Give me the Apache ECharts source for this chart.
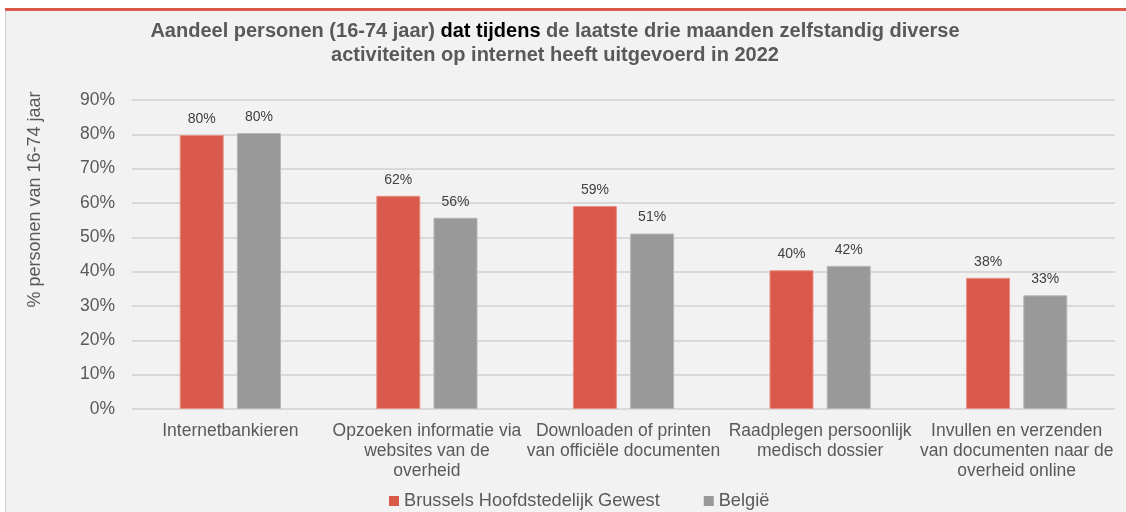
<!DOCTYPE html>
<html lang="nl">
<head>
	<meta charset="UTF-8">
	<title>Internetactiviteiten 2022</title>
	<style type="text/css">
	body,html{
		width: 100%;
		height: 100%;
		margin: 0;
		padding: 0;
		background: #ffffff;
	}
	#container{
		width: 1126px;
		height: 512px;
	}
	</style>
</head>
<body>
	<div id="container"></div>
<script type="text/javascript" src="https://cdn.jsdelivr.net/npm/echarts@6/dist/echarts.min.js"></script>
<script type="text/javascript">
	// categorieën (x-as)
	var categories = [
		'Internetbankieren',
		'Opzoeken informatie via\nwebsites van de\noverheid',
		'Downloaden of printen\nvan officiële documenten',
		'Raadplegen persoonlijk\nmedisch dossier',
		'Invullen en verzenden\nvan documenten naar de\noverheid online'
	];
	var seriesNames = ['Brussels Hoofdstedelijk Gewest', 'België'];
	// waarden in %
	var brussel = [79.8, 62.1, 59.1, 40.4, 38.2];
	var belgie = [80.4, 55.7, 51.1, 41.7, 33.1];
	var yTicks = [0, 90, 10]; // min, max, interval

	var font = '"Liberation Sans", Arial, sans-serif';
	var txtColor = '#595959';

	function barLabel() {
		return {
			show: true,
			position: 'top',
			distance: 9,
			fontFamily: font,
			fontSize: 14,
			color: '#404040',
			formatter: function (p) { return Math.round(p.value) + '%'; }
		};
	}

	var option = {
		backgroundColor: '#f2f2f2',
		animation: false,
		title: {
			text: '{g|Aandeel personen (16-74 jaar) }{b|dat tijdens}{g| de laatste drie maanden zelfstandig diverse}\n{g|activiteiten op internet heeft uitgevoerd in 2022}',
			left: 550,
			top: 14,
			textAlign: 'center',
			textStyle: {
				fontFamily: font,
				fontSize: 20,
				fontWeight: 'bold',
				lineHeight: 24,
				rich: {
					g: { color: txtColor, fontFamily: font, fontSize: 20, fontWeight: 'bold', lineHeight: 24 },
					b: { color: '#000000', fontFamily: font, fontSize: 20, fontWeight: 'bold', lineHeight: 24 }
				}
			}
		},
		graphic: [
			{ type: 'rect', shape: { x: 0, y: 0, width: 1126, height: 8 }, style: { fill: '#ffffff' }, silent: true },
			{ type: 'rect', shape: { x: 0, y: 0, width: 6, height: 512 }, style: { fill: '#ffffff' }, silent: true },
			{ type: 'rect', shape: { x: 5, y: 8, width: 1121, height: 3 }, style: { fill: '#d95a4a' }, silent: true },
			{ type: 'rect', shape: { x: 5, y: 11, width: 1, height: 501 }, style: { fill: '#d0d0d0' }, silent: true }
		],
		legend: {
			left: 389,
			top: 492,
			padding: 0,
			itemWidth: 10,
			itemHeight: 10,
			itemGap: 44,
			icon: 'rect',
			itemStyle: { borderWidth: 0 },
			textStyle: { fontFamily: font, fontSize: 18.2, color: txtColor },
			data: seriesNames
		},
		grid: {
			left: 132,
			right: 11,
			top: 100,
			bottom: 103
		},
		xAxis: {
			type: 'category',
			data: categories,
			axisLine: { lineStyle: { color: '#d9d9d9', width: 1 } },
			axisTick: { show: false },
			axisLabel: {
				interval: 0,
				margin: 12,
				fontFamily: font,
				fontSize: 17.5,
				lineHeight: 20,
				color: txtColor,
				verticalAlign: 'top'
			}
		},
		yAxis: {
			type: 'value',
			min: yTicks[0],
			max: yTicks[1],
			interval: yTicks[2],
			name: '% personen van 16-74 jaar',
			nameLocation: 'middle',
			nameRotate: 90,
			nameGap: 88,
			nameTextStyle: {
				fontFamily: font,
				fontSize: 18,
				color: txtColor,
				padding: [0, 0, 0, 110]
			},
			axisLine: { show: false },
			axisTick: { show: false },
			axisLabel: {
				margin: 17,
				fontFamily: font,
				fontSize: 17.5,
				color: txtColor,
				formatter: '{value}%'
			},
			splitLine: { lineStyle: { color: '#d9d9d9', width: 2 } }
		},
		series: [{
			name: seriesNames[0],
			type: 'bar',
			data: brussel,
			barWidth: 44,
			barGap: '30%',
			itemStyle: { color: '#d95a4a', borderColor: '#e88f83', borderWidth: 1 },
			label: barLabel()
		}, {
			name: seriesNames[1],
			type: 'bar',
			data: belgie,
			barWidth: 44,
			itemStyle: { color: '#999999', borderColor: '#b5b5b5', borderWidth: 1 },
			label: barLabel()
		}]
	};
	var container = echarts.init(document.getElementById('container'));
	container.setOption(option, true);
</script>
</body>
</html>
